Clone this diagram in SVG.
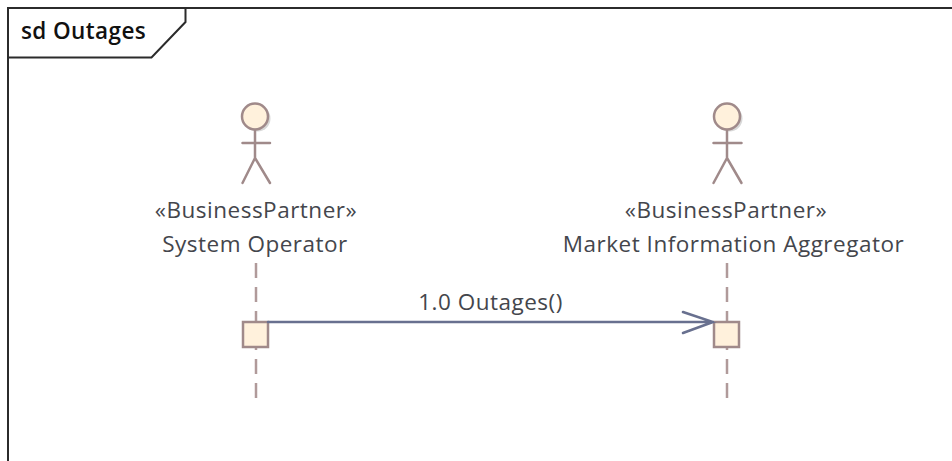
<svg xmlns="http://www.w3.org/2000/svg" width="952" height="461" viewBox="0 0 952 461">
<style>
.t{font-family:"Open Sans","Noto Sans","Liberation Sans",sans-serif;font-size:22.500px;letter-spacing:.5px;fill:#44464c;text-anchor:middle}
.fr{fill:none;stroke:#2b2b2b;stroke-width:2}
.a{stroke:#a08a8a;stroke-width:2.500;fill:none;stroke-linecap:round}
.h{fill:#fff1dc;stroke:#a08a8a;stroke-width:2.500}
.s{fill:#fff1dc;stroke:#a08a8a;stroke-width:2.500}
.l{stroke:#b09a9a;stroke-width:2.500;stroke-dasharray:15 9;fill:none}
.m{stroke:#68708f;stroke-width:2.500;fill:none;stroke-linecap:round}
</style>
<rect width="952" height="461" fill="#fff"/>
<g id="frame">
<path class="fr" d="M8 461V8H952"/>
<path class="fr" d="M8 57.500H151.500L185.500 22V8"/>
<text x="21" y="39" style="font-family:'Open Sans','Noto Sans',sans-serif;font-size:22.500px;letter-spacing:.4px;font-weight:600;fill:#111">sd Outages</text>
</g>
<g id="lifelines">
<path class="l" d="M256 263V398"/>
<path class="l" d="M727 263V398"/>
</g>
<g id="system-operator">
<circle cx="257.500" cy="118.500" r="13" fill="#d8d8d8"/>
<circle class="h" cx="255" cy="116.500" r="13"/>
<path class="a" d="M255 130V158M242.500 143H270M255 158L242.500 183M255 158L270 183"/>
<text class="t" x="256" y="218">«BusinessPartner»</text>
<text class="t" x="255" y="252">System Operator</text>
<rect class="s" x="243" y="322" width="25" height="25"/>
</g>
<g id="market-information-aggregator">
<circle cx="729.500" cy="118.500" r="13" fill="#d8d8d8"/>
<circle class="h" cx="727" cy="116.500" r="13"/>
<path class="a" d="M727 130V158M713.500 143H741.500M727 158L713.500 183M727 158L741.500 183"/>
<text class="t" x="726" y="218">«BusinessPartner»</text>
<text class="t" x="733.500" y="252">Market Information Aggregator</text>
<rect class="s" x="714" y="322" width="25" height="25"/>
</g>
<g id="connectors">
<path class="m" d="M268 322H713M683 312L713 322L683 333"/>
<text class="t" x="490.500" y="309.500">1.0 Outages()</text>
</g>
</svg>
